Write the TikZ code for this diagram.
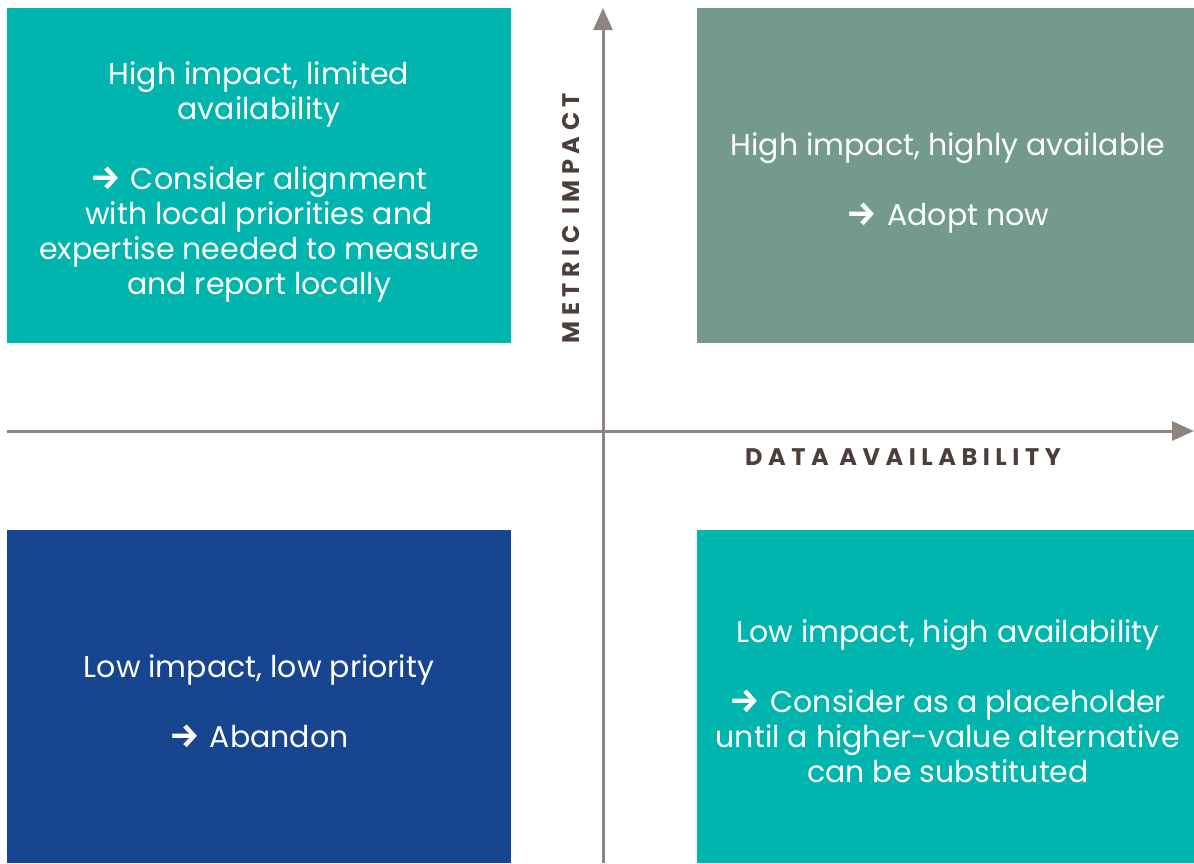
\documentclass[tikz,border=0pt]{standalone}
\usepackage{fontspec}
\setmainfont{Poppins}
\newfontfamily\arrowfont{Fira Sans}
\newfontfamily\axisfont[LetterSpace=23]{Poppins}
\usetikzlibrary{arrows.meta}
\definecolor{tealq}{HTML}{00B5AD}
\definecolor{sageq}{HTML}{739A8B}
\definecolor{navyq}{HTML}{174590}
\definecolor{axisq}{HTML}{8E8580}
\definecolor{labelq}{HTML}{4A3F3A}
\newcommand{\rarr}{{\arrowfont\bfseries\fontsize{34}{35}\selectfont\char"2192}\hspace{2pt}}
\tikzset{
  quad/.style={draw=none, inner sep=0pt},
  qtext/.style={text=white, align=center, font=\fontsize{30}{35}\selectfont},
  axis/.style={draw=axisq, line width=3pt, -{Triangle[length=22pt,width=19pt]}},
  axislabel/.style={text=labelq, font=\axisfont\bfseries\fontsize{24}{28}\selectfont}
}
\begin{document}
\begin{tikzpicture}[x=1pt,y=-1pt]
\useasboundingbox (0,0) rectangle (1194,863);
\fill[tealq] (7,8) rectangle (511,343);
\fill[sageq] (697,8) rectangle (1194,343);
\fill[navyq] (7,530) rectangle (511,863);
\fill[tealq] (697,530) rectangle (1194,863);
\coordinate (vs) at (603,863);
\coordinate (ve) at (603,8);
\coordinate (hs) at (7,431);
\coordinate (he) at (1194,431);
\draw[axis] (vs) -- (ve);
\draw[axis] (hs) -- (he);
\node[axislabel, rotate=90] (ylab) at (571,218) {METRIC IMPACT};
\node[axislabel] (xlab) at (903,457) {DATA AVAILABILITY};
\node[qtext] (tl) at (259,182) {High impact, limited\\availability\\[35pt]\rarr\ Consider alignment\\with local priorities and\\expertise needed to measure\\and report locally};
\node[qtext] (tr) at (948,183) {High impact, highly available\\[35pt]\rarr\ Adopt now};
\node[qtext] (bl) at (259,701) {Low impact, low priority\\[35pt]\rarr\ Abandon};
\node[qtext] (br) at (948,701) {Low impact, high availability\\[35pt]\rarr\ Consider as a placeholder\\until a higher-value alternative\\can be substituted};
\end{tikzpicture}
\end{document}
